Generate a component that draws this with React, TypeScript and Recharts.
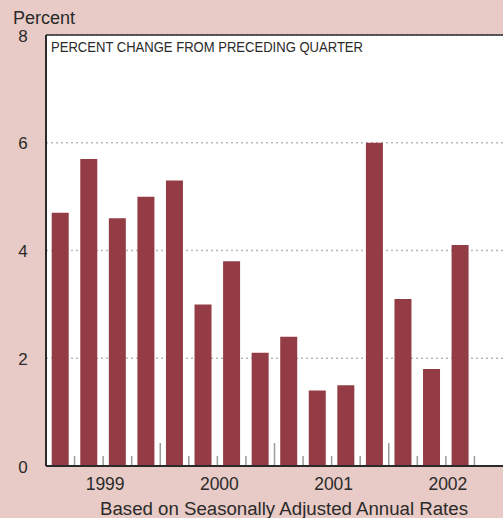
import React from 'react';
import { BarChart, Bar, XAxis, YAxis, CartesianGrid, ReferenceLine } from 'recharts';

const quarters = ['1999Q1','1999Q2','1999Q3','1999Q4','2000Q1','2000Q2','2000Q3','2000Q4','2001Q1','2001Q2','2001Q3','2001Q4','2002Q1','2002Q2','2002Q3','2002Q4'];
const values: (number | null)[] = [4.7, 5.7, 4.6, 5.0, 5.3, 3.0, 3.8, 2.1, 2.4, 1.4, 1.5, 6.0, 3.1, 1.8, 4.1, null];
const yTicks = [0, 2, 4, 6, 8];

const data = quarters.map((q, i) => ({ q, v: values[i] }));

const PINK = '#e8cac6';
const BAR = '#943c46';
const DARK = '#2a2a2a';
const FONT = '"Liberation Sans", Arial, Helvetica, sans-serif';
const PLOT_W = 503 - 46;
const SLOT = PLOT_W / quarters.length;

const YTick = (props: any) => {
  const { y, payload } = props;
  return (
    <text x={23} y={y} dy={6.5} textAnchor="middle" fontSize={17} fontFamily={FONT} fill={DARK}>
      {payload.value}
    </text>
  );
};

const QuarterTick = (props: any) => {
  const { x, y, payload, index } = props;
  const half = payload && payload.offset ? payload.offset : SLOT / 2;
  const q: string = String(payload.value);
  const year = q.slice(0, 4);
  const qn = q.slice(4);
  const bx = x + half;
  const isLast = index === quarters.length - 1;
  const tall = qn === 'Q4';
  return (
    <g>
      {!isLast && (
        <line x1={bx} x2={bx} y1={y - 1} y2={y - (tall ? 23 : 10)} stroke="#9a9a9a" strokeWidth={1.5} />
      )}
      {qn === 'Q2' && (
        <text x={bx + 2} y={y + 24} textAnchor="middle" fontSize={17.5} fontFamily={FONT} fill={DARK}>
          {year}
        </text>
      )}
    </g>
  );
};

export default function App() {
  return (
    <div style={{ width: 503, height: 518, background: PINK }}>
      <style>{`body{margin:0}`}</style>
      <BarChart
        width={503}
        height={518}
        data={data}
        margin={{ top: 35, right: 0, left: 0, bottom: 22 }}
        barCategoryGap="20%"
      >
        <CartesianGrid vertical={false} fill="#ffffff" stroke="#b8b8b8" strokeDasharray="2 3" strokeWidth={1.5} />
        <XAxis
          dataKey="q"
          height={30}
          axisLine={{ stroke: DARK, strokeWidth: 2 }}
          tickLine={false}
          tickSize={0}
          tickMargin={0}
          tick={<QuarterTick />}
          interval={0}
        />
        <YAxis
          domain={[0, 8]}
          ticks={yTicks}
          width={46}
          axisLine={{ stroke: DARK, strokeWidth: 2 }}
          tickLine={false}
          tick={<YTick />}
          interval={0}
        />
        <ReferenceLine y={8} stroke={DARK} strokeWidth={1.5} />
        <Bar dataKey="v" fill={BAR} isAnimationActive={false} />
        <text x={13} y={24} fontSize={18} fontFamily={FONT} fill={DARK}>Percent</text>
        <text x={51} y={52} fontSize={14.5} fontFamily={FONT} fill={DARK} textLength={312} lengthAdjust="spacingAndGlyphs">
          PERCENT CHANGE FROM PRECEDING QUARTER
        </text>
        <text x={100} y={515} fontSize={18} fontFamily={FONT} fill={DARK} textLength={368} lengthAdjust="spacingAndGlyphs">
          Based on Seasonally Adjusted Annual Rates
        </text>
      </BarChart>
    </div>
  );
}
